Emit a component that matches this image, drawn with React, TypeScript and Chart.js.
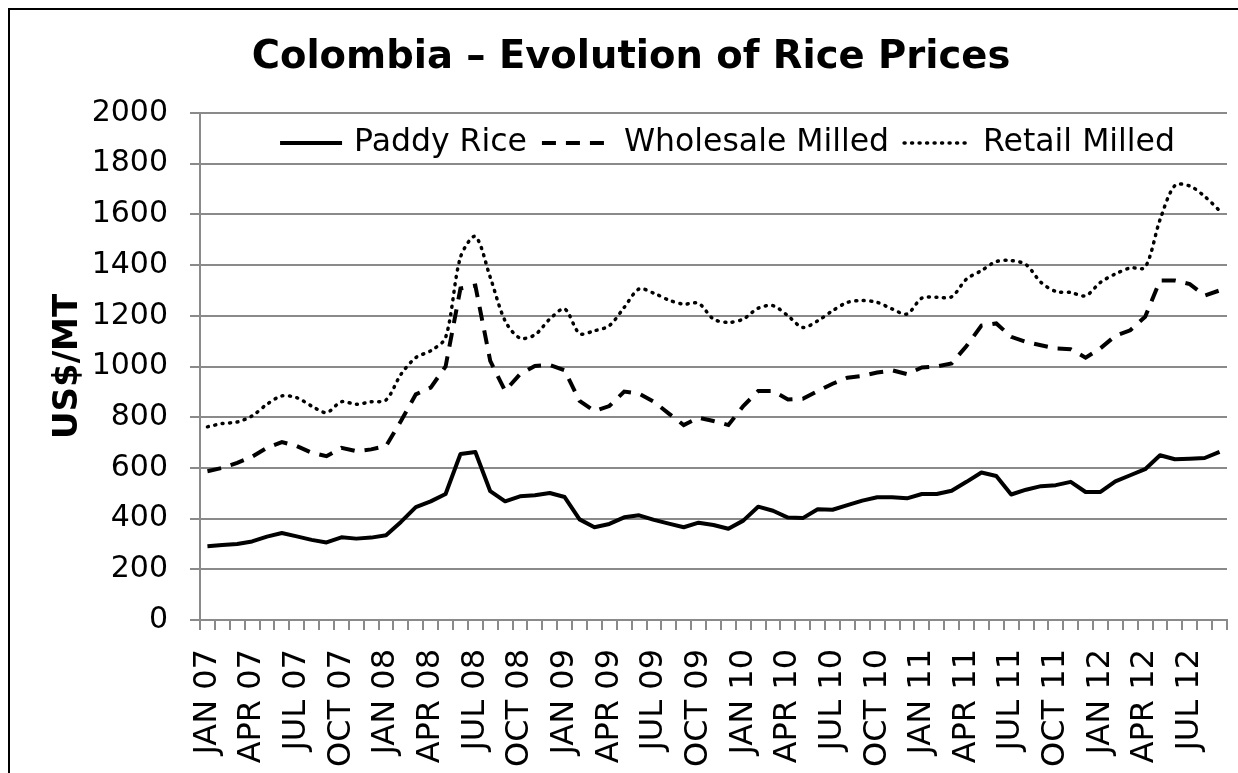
import React, { useEffect, useRef } from "react";
import { Chart, registerables } from "chart.js";

Chart.register(...registerables);

const FONT = "'DejaVu Sans', Verdana, sans-serif";

const chartTitle = "Colombia – Evolution of Rice Prices";

const months = [
  "JAN 07", "FEB 07", "MAR 07", "APR 07", "MAY 07", "JUN 07", "JUL 07", "AUG 07", "SEP 07", "OCT 07", "NOV 07", "DEC 07",
  "JAN 08", "FEB 08", "MAR 08", "APR 08", "MAY 08", "JUN 08", "JUL 08", "AUG 08", "SEP 08", "OCT 08", "NOV 08", "DEC 08",
  "JAN 09", "FEB 09", "MAR 09", "APR 09", "MAY 09", "JUN 09", "JUL 09", "AUG 09", "SEP 09", "OCT 09", "NOV 09", "DEC 09",
  "JAN 10", "FEB 10", "MAR 10", "APR 10", "MAY 10", "JUN 10", "JUL 10", "AUG 10", "SEP 10", "OCT 10", "NOV 10", "DEC 10",
  "JAN 11", "FEB 11", "MAR 11", "APR 11", "MAY 11", "JUN 11", "JUL 11", "AUG 11", "SEP 11", "OCT 11", "NOV 11", "DEC 11",
  "JAN 12", "FEB 12", "MAR 12", "APR 12", "MAY 12", "JUN 12", "JUL 12", "AUG 12", "SEP 12",
];

const paddyRice = [
  291, 296, 300, 310, 329, 343, 330, 316, 306, 326, 321, 325, 334, 387, 445, 468, 497, 655, 663, 508, 468, 488, 492,
  501, 485, 397, 366, 379, 405, 413, 395, 380, 366, 384, 375, 360, 392, 447, 431, 404, 402, 437, 435, 453, 471, 484,
  484, 480, 497, 497, 510, 545, 582, 568, 495, 514, 528, 532, 545, 505, 505, 547, 571, 595, 650, 634, 636, 639, 663,
];

const wholesaleMilled = [
  587, 600, 620, 644, 679, 702, 686, 660, 646, 679, 666, 673, 686, 785, 890, 917, 1000, 1308, 1319, 1022, 904, 970, 1002,
  1006, 985, 864, 824, 844, 901, 893, 861, 814, 769, 798, 785, 769, 844, 903, 903, 870, 873, 903, 932, 956, 963, 976,
  985, 970, 996, 1000, 1012, 1081, 1161, 1170, 1117, 1097, 1084, 1071, 1068, 1035, 1072, 1121, 1143, 1196, 1339, 1339, 1325, 1280, 1300,
];

const retailMilled = [
  762, 775, 781, 805, 851, 884, 877, 844, 818, 861, 851, 861, 868, 969, 1035, 1062, 1114, 1431, 1513, 1352, 1180, 1112, 1125,
  1187, 1227, 1130, 1141, 1161, 1233, 1306, 1289, 1262, 1246, 1249, 1187, 1174, 1187, 1230, 1240, 1200, 1154, 1180, 1220, 1253, 1260, 1253,
  1227, 1207, 1270, 1273, 1275, 1345, 1378, 1414, 1418, 1402, 1332, 1296, 1292, 1279, 1332, 1365, 1389, 1391, 1579, 1714, 1712, 1671, 1615,
];

const seriesNames = ["Paddy Rice", "Wholesale Milled", "Retail Milled"];
const yTicks = { min: 0, max: 2000, step: 200 };

const titleAndLegendPlugin = {
  id: "titleAndLegend",
  afterDraw(chart: any) {
    const ctx = chart.ctx;
    const area = chart.chartArea;
    ctx.save();
    // Title
    ctx.font = `bold 38.5px ${FONT}`;
    ctx.fillStyle = "#000";
    ctx.textAlign = "center";
    ctx.textBaseline = "middle";
    ctx.fillText(chartTitle, 621, 47.8);

    // Legend inside plot area
    ctx.font = `31.5px ${FONT}`;
    ctx.textBaseline = "middle";
    ctx.textAlign = "left";
    const lineLen = [62, 70, 67];
    const gapText = 12;
    const gapItem = 15;
    const items = chart.data.datasets.map((ds: any, i: number) => ({
      ds,
      w: ctx.measureText(ds.label).width,
      l: lineLen[i],
    }));
    const total =
      items.reduce((s: number, it: any) => s + it.l + gapText + it.w, 0) + gapItem * (items.length - 1);
    let x = 717.5 - total / 2;
    const y = area.top + 30;
    items.forEach((it: any) => {
      const ds = it.ds;
      ctx.beginPath();
      ctx.strokeStyle = ds.borderColor;
      ctx.lineWidth = ds.borderWidth;
      ctx.lineCap = ds.borderCapStyle || "butt";
      ctx.setLineDash(ds.borderDash || []);
      ctx.moveTo(x, y);
      ctx.lineTo(x + it.l, y);
      ctx.stroke();
      ctx.setLineDash([]);
      x += it.l + gapText;
      ctx.fillStyle = "#000";
      ctx.fillText(ds.label, x, y);
      x += it.w + gapItem;
    });
    ctx.restore();
  },
};

export default function App() {
  const canvasRef = useRef<HTMLCanvasElement | null>(null);

  useEffect(() => {
    const canvas = canvasRef.current;
    if (!canvas) return;
    const grey = "#8a8a8a";
    const chart = new Chart(canvas, {
      type: "line",
      data: {
        labels: months,
        datasets: [
          {
            label: seriesNames[0],
            data: paddyRice,
            borderColor: "#000",
            borderWidth: 4,
            pointRadius: 0,
            tension: 0,
            borderJoinStyle: "round",
          },
          {
            label: seriesNames[1],
            data: wholesaleMilled,
            borderColor: "#000",
            borderWidth: 4,
            borderDash: [14, 10],
            pointRadius: 0,
            tension: 0,
          },
          {
            label: seriesNames[2],
            data: retailMilled,
            borderColor: "#000",
            borderWidth: 3.5,
            borderDash: [1, 6.5],
            borderCapStyle: "round",
            pointRadius: 0,
            tension: 0.3,
          },
        ],
      },
      options: {
        responsive: false,
        animation: false,
        layout: { padding: { left: 0, right: 11, top: 103, bottom: 0 } },
        plugins: {
          legend: { display: false },
          tooltip: { enabled: false },
          title: { display: false },
        },
        scales: {
          x: {
            offset: true,
            grid: {
              display: true,
              drawOnChartArea: false,
              drawTicks: true,
              tickLength: 10,
              offset: true,
              color: grey,
              lineWidth: 2,
            },
            border: { display: true, color: grey, width: 2 },
            ticks: {
              autoSkip: false,
              minRotation: 90,
              maxRotation: 90,
              padding: 19,
              color: "#000",
              font: { family: FONT, size: 32 },
              callback: (_v: any, i: number) => (i % 3 === 0 ? months[i] : ""),
            },
            afterFit: (scale: any) => {
              scale.height = 153;
              scale.paddingLeft = 0;
              scale.paddingRight = 0;
            },
          },
          y: {
            min: yTicks.min,
            max: yTicks.max,
            grid: {
              color: grey,
              lineWidth: 2,
              tickLength: 10,
            },
            border: { display: true, color: grey, width: 2 },
            ticks: {
              stepSize: yTicks.step,
              padding: 22,
              color: "#000",
              font: { family: FONT, size: 30 },
              callback: (v: any) => String(v),
            },
            title: {
              display: true,
              text: "US$/MT",
              color: "#000",
              font: { family: FONT, size: 34, weight: "bold" },
              padding: { top: 38, bottom: 0 },
            },
            afterFit: (scale: any) => {
              scale.width = 190;
            },
          },
        },
      },
      plugins: [titleAndLegendPlugin],
    } as any);
    return () => chart.destroy();
  }, []);

  return (
    <div
      style={{
        position: "fixed",
        left: 8,
        top: 8,
        width: 1230,
        height: 765,
        borderLeft: "2px solid #000",
        borderTop: "2px solid #000",
        boxSizing: "border-box",
        background: "#fff",
        overflow: "hidden",
      }}
    >
      <canvas ref={canvasRef} width={1228} height={763} style={{ display: "block" }} />
    </div>
  );
}
